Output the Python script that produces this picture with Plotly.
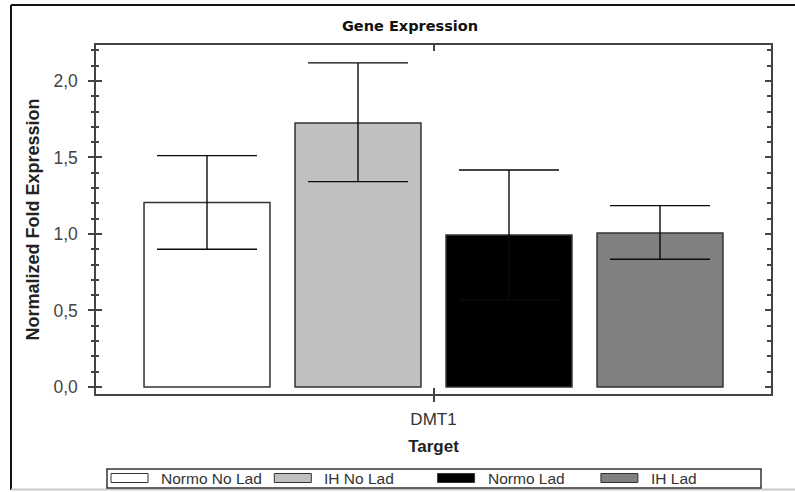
import plotly.graph_objects as go

# ---- data ----
categories = ["DMT1"]
series_names = ["Normo No Lad", "IH No Lad", "Normo Lad", "IH Lad"]
series_values = [1.205, 1.725, 0.993, 1.006]
err_plus = [0.307, 0.393, 0.425, 0.179]
err_minus = [0.305, 0.383, 0.425, 0.171]
y_tick_vals = [0.0, 0.5, 1.0, 1.5, 2.0]
y_tick_text = ["0,0", "0,5", "1,0", "1,5", "2,0"]

# ---- styles ----
colors = ["#ffffff", "#c0c0c0", "#000000", "#808080"]
W, H = 795, 492
L, R, T, B = 96, 771, 45, 394          # plot-area pixel box
YR = [-0.046, 2.235]
XR = [-0.447, 0.447]
AX = "#444444"
FONT = "Liberation Sans, Arial, sans-serif"


def px_x(p):
    return (p - L) / (R - L)


def px_y(p):
    return (B - p) / (B - T)


fig = go.Figure()
for i, name in enumerate(series_names):
    fig.add_trace(go.Bar(
        x=categories, y=[series_values[i]], name=name, showlegend=False,
        marker=dict(color=colors[i], line=dict(color="#333333", width=1.5)),
        error_y=dict(type="data", symmetric=False, array=[err_plus[i]],
                     arrayminus=[err_minus[i]], color="#0a0a0a",
                     thickness=1.4, width=50),
    ))

# empty helper traces so the overlay axes (inside ticks) are drawn
fig.add_trace(go.Scatter(x=[], y=[], xaxis="x2", yaxis="y2", showlegend=False, hoverinfo="skip"))
fig.add_trace(go.Scatter(x=[], y=[], xaxis="x3", yaxis="y3", showlegend=False, hoverinfo="skip"))

common_y = dict(range=YR, tickvals=y_tick_vals, showgrid=False, zeroline=False,
                tickcolor=AX, tickwidth=1.5)
fig.update_layout(
    width=W, height=H,
    margin=dict(l=L, r=W - R, t=T, b=H - B, autoexpand=False),
    paper_bgcolor="white", plot_bgcolor="white",
    barmode="group", bargap=0.2, bargroupgap=0.166,
    title=dict(text="Gene Expression", x=410 / W, xanchor="center",
               y=1 - 26 / H, yanchor="middle",
               font=dict(family="DejaVu Sans", size=14.5, color="#111", weight="bold")),
    xaxis=dict(type="category", range=XR, showline=True, linecolor=AX, linewidth=1.5,
               ticks="outside", ticklen=6, tickwidth=1.5, tickcolor=AX,
               ticklabelstandoff=3,
               tickfont=dict(family=FONT, size=17, color="#333"),
               showgrid=False, zeroline=False,
               title=dict(text="Target", standoff=12,
                          font=dict(family=FONT, size=17, color="#222", weight="bold"))),
    xaxis2=dict(overlaying="x", side="bottom", range=XR, tickvals=[0],
                showticklabels=False, ticks="inside", ticklen=6, tickwidth=1.5,
                tickcolor=AX, showline=False, showgrid=False, zeroline=False),
    xaxis3=dict(overlaying="x", side="top", range=XR, tickvals=[0],
                showticklabels=False, ticks="inside", ticklen=6, tickwidth=1.5,
                tickcolor=AX, showline=True, linecolor=AX, linewidth=1.5,
                showgrid=False, zeroline=False),
    yaxis=dict(**common_y, ticktext=y_tick_text, ticks="outside", ticklen=6,
               ticklabelstandoff=7,
               tickfont=dict(family=FONT, size=17.5, color="#444"),
               showline=True, linecolor=AX, linewidth=1.5,
               minor=dict(dtick=0.1, tick0=0, ticks="outside", ticklen=3,
                          tickcolor=AX, tickwidth=1.5, showgrid=False),
               title=dict(text="Normalized Fold Expression", standoff=9,
                          font=dict(family=FONT, size=18, color="#222", weight="bold"))),
    yaxis2=dict(**common_y, overlaying="y", side="left", showticklabels=False,
                ticks="inside", ticklen=6, showline=False,
                minor=dict(dtick=0.1, tick0=0, ticks="inside", ticklen=3,
                           tickcolor=AX, tickwidth=1.5, showgrid=False)),
    yaxis3=dict(**common_y, overlaying="y", side="right", showticklabels=False,
                ticks="inside", ticklen=6, showline=True, linecolor=AX, linewidth=1.5,
                minor=dict(dtick=0.1, tick0=0, ticks="inside", ticklen=4,
                           tickcolor=AX, tickwidth=1.5, showgrid=False)),
)

shapes = []
# outer frame (left + top black, bottom light gray)
shapes.append(dict(type="line", xref="paper", yref="paper", x0=px_x(11), x1=px_x(11),
                   y0=px_y(5), y1=px_y(490), line=dict(color="#111", width=2)))
shapes.append(dict(type="line", xref="paper", yref="paper", x0=px_x(11), x1=px_x(795),
                   y0=px_y(5), y1=px_y(5), line=dict(color="#111", width=2)))
shapes.append(dict(type="line", xref="paper", yref="paper", x0=px_x(11), x1=px_x(795),
                   y0=px_y(489.5), y1=px_y(489.5), line=dict(color="#c8c8c8", width=2)))
# custom legend box
shapes.append(dict(type="rect", xref="paper", yref="paper", x0=px_x(107), x1=px_x(761),
                   y0=px_y(469), y1=px_y(488), line=dict(color="#333", width=1.5),
                   fillcolor="white"))
annotations = []
for i, name in enumerate(series_names):
    sx = 111 + i * 163.3
    shapes.append(dict(type="rect", xref="paper", yref="paper", x0=px_x(sx), x1=px_x(sx + 37),
                       y0=px_y(473.5), y1=px_y(482.5), fillcolor=colors[i],
                       line=dict(color="#333", width=1)))
    annotations.append(dict(text=name, xref="paper", yref="paper", x=px_x(sx + 48),
                            y=px_y(478), xanchor="left", yanchor="middle", showarrow=False,
                            font=dict(family=FONT, size=15.5, color="#333")))
fig.update_layout(shapes=shapes, annotations=annotations)

fig.write_html("out.html", config={"displayModeBar": False},
               post_script="document.body.style.margin='0';document.body.style.overflow='hidden';")
